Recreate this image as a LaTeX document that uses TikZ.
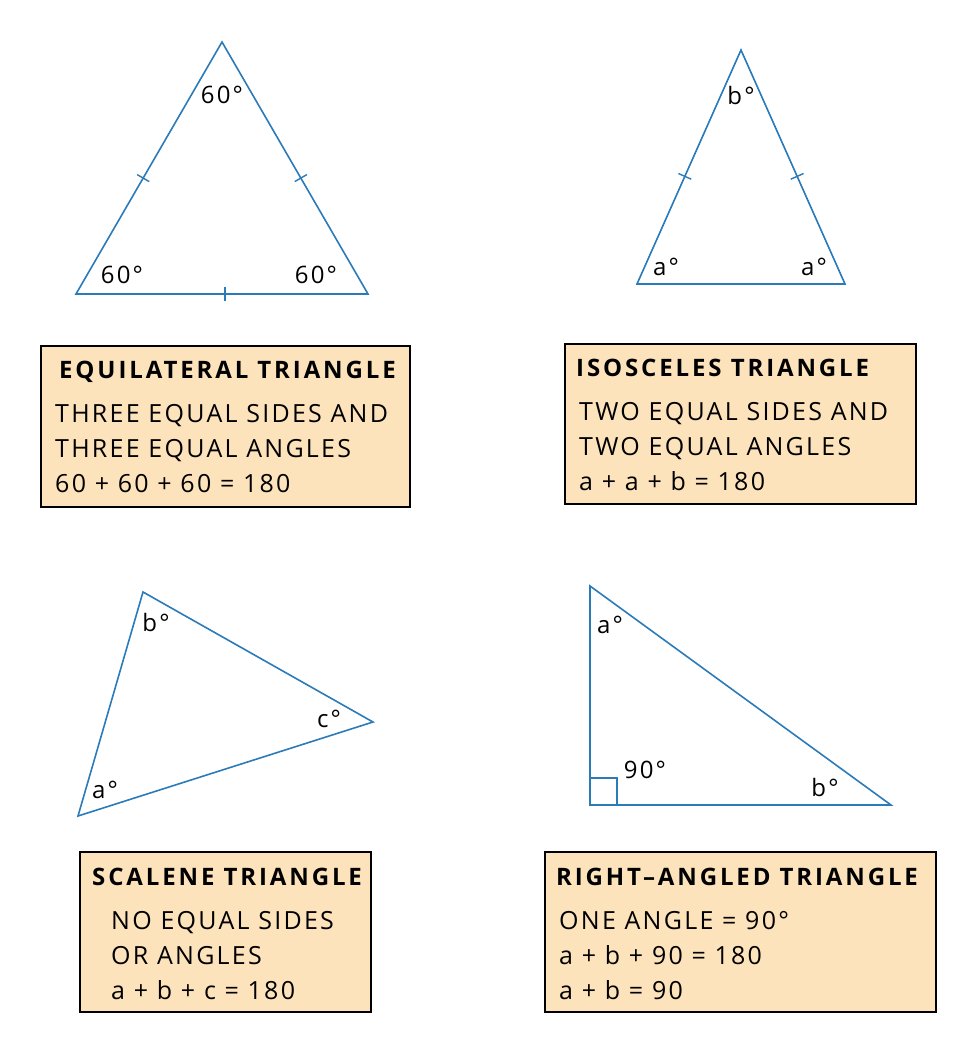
\documentclass[tikz,border=0pt]{standalone}
\usepackage{fontspec}
\setmainfont[LetterSpace=9]{Open Sans}
\newfontfamily\headfont[LetterSpace=12]{Open Sans}
\usetikzlibrary{calc}

\definecolor{triblue}{HTML}{2B7BB9}
\definecolor{boxpeach}{HTML}{FDE3BC}

\begin{document}
\begin{tikzpicture}[
  x=1pt, y=-1pt,
  every node/.style={
    inner sep=0pt,
    font=\fontsize{25}{30}\selectfont,
  },
  tri/.style={draw=triblue, line width=1.6pt, line join=miter},
  tickmark/.style={draw=triblue, line width=1.4pt},
  infobox/.style={draw=black, fill=boxpeach, line width=1.2pt},
  head/.style={anchor=base west, font=\fontsize{24}{28}\selectfont\headfont\bfseries},
  line/.style={anchor=base west},
  ang/.style={font=\fontsize{24}{28}\selectfont},
]
\useasboundingbox (0,0) rectangle (978,1054);

% equilateral
\coordinate (eqtop) at (222,42);
\coordinate (eqleft) at (76,294);
\coordinate (eqright) at (368,294);
\draw[tri] (eqtop) -- (eqright) -- (eqleft) -- cycle;
\draw[tickmark] ($(eqtop)!0.54!(eqleft)!7pt!90:(eqleft)$) -- ($(eqtop)!0.54!(eqleft)!-7pt!90:(eqleft)$);
\draw[tickmark] ($(eqtop)!0.54!(eqright)!7pt!90:(eqright)$) -- ($(eqtop)!0.54!(eqright)!-7pt!90:(eqright)$);
\draw[tickmark] ($(eqleft)!0.51!(eqright)!7pt!90:(eqright)$) -- ($(eqleft)!0.51!(eqright)!-7pt!90:(eqright)$);
\node[ang] (eqa1) at (222,95) {60°};
\node[ang] (eqa2) at (122,275) {60°};
\node[ang] (eqa3) at (316,275) {60°};

\draw[infobox] (41,346) rectangle (410,507);
\node[head] (eqhead) at (59,378) {EQUILATERAL TRIANGLE};
\node[line] (eql1) at (55,422) {THREE EQUAL SIDES AND};
\node[line] (eql2) at (55,457) {THREE EQUAL ANGLES};
\node[line] (eql3) at (55,492) {60 + 60 + 60 = 180};

% isosceles
\coordinate (istop) at (741,50);
\coordinate (isleft) at (637,284);
\coordinate (isright) at (845,284);
\draw[tri] (istop) -- (isright) -- (isleft) -- cycle;
\draw[tickmark] ($(istop)!0.54!(isleft)!7pt!90:(isleft)$) -- ($(istop)!0.54!(isleft)!-7pt!90:(isleft)$);
\draw[tickmark] ($(istop)!0.54!(isright)!7pt!90:(isright)$) -- ($(istop)!0.54!(isright)!-7pt!90:(isright)$);
\node[ang] (isb) at (741,96) {b°};
\node[ang] (isa1) at (666,267) {a°};
\node[ang] (isa2) at (814,267) {a°};

\draw[infobox] (565,344) rectangle (916,504);
\node[head] (ishead) at (576,376) {ISOSCELES TRIANGLE};
\node[line] (isl1) at (579,420) {TWO EQUAL SIDES AND};
\node[line] (isl2) at (579,455) {TWO EQUAL ANGLES};
\node[line] (isl3) at (579,490) {a + a + b = 180};

% scalene
\coordinate (sctop) at (143,592);
\coordinate (scright) at (373,722);
\coordinate (scleft) at (78,816);
\draw[tri] (sctop) -- (scright) -- (scleft) -- cycle;
\node[ang] (scb) at (156,622) {b°};
\node[ang] (scc) at (329,719) {c°};
\node[ang] (sca) at (105,790) {a°};

\draw[infobox] (80,852) rectangle (371,1012);
\node[head] (schead) at (92,885) {SCALENE TRIANGLE};
\node[line] (scl1) at (111,929) {NO EQUAL SIDES};
\node[line] (scl2) at (111,964) {OR ANGLES};
\node[line] (scl3) at (111,999) {a + b + c = 180};

% right-angled
\coordinate (rttop) at (590,586);
\coordinate (rtcorner) at (590,805);
\coordinate (rtright) at (891,805);
\draw[tri] (rttop) -- (rtright) -- (rtcorner) -- cycle;
\draw[tri] ($(rtcorner)+(0,-27)$) -- ++(27,0) -- ++(0,27);
\node[ang] (rta) at (610,625) {a°};
\node[ang] (rt90) at (645,770) {90°};
\node[ang] (rtb) at (825,787) {b°};

\draw[infobox] (545,852) rectangle (936,1012);
\node[head] (rthead) at (556,885) {RIGHT–ANGLED TRIANGLE};
\node[line] (rtl1) at (559,929) {ONE ANGLE = 90°};
\node[line] (rtl2) at (559,964) {a + b + 90 = 180};
\node[line] (rtl3) at (559,999) {a + b = 90};
\end{tikzpicture}
\end{document}
